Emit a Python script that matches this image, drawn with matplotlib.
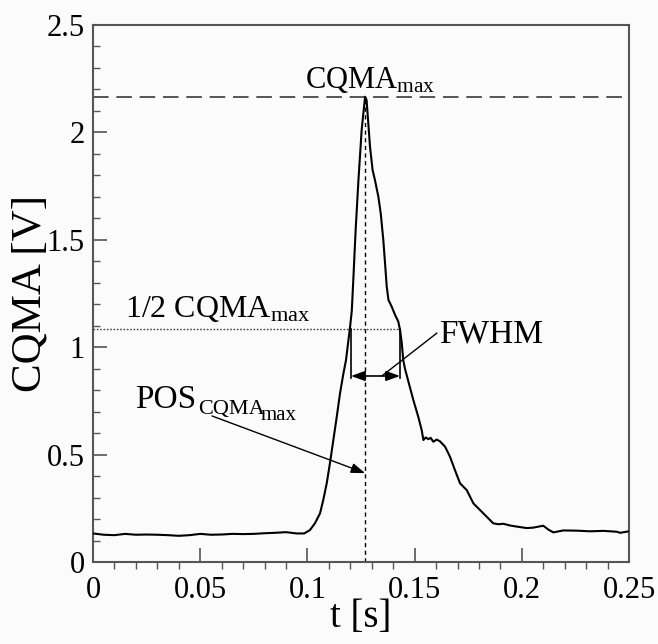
import matplotlib
matplotlib.use("Agg")
import matplotlib.pyplot as plt
from matplotlib.ticker import MultipleLocator

# Signal
t = [0.000, 0.005, 0.010, 0.015, 0.020, 0.025, 0.030, 0.035, 0.040, 0.045,
     0.050, 0.055, 0.060, 0.065, 0.070, 0.075, 0.080, 0.085, 0.090, 0.095,
     0.0985, 0.1012, 0.1035, 0.1059, 0.1074, 0.1090, 0.1105, 0.1121, 0.1137,
     0.1152, 0.1168, 0.1180, 0.1191, 0.1199, 0.1207, 0.1214, 0.1225, 0.1238,
     0.1253, 0.1269, 0.1276, 0.1292, 0.1304, 0.1315, 0.1331, 0.1342, 0.1354,
     0.1362, 0.1370, 0.1378, 0.1393, 0.1409, 0.1424, 0.1432, 0.1440, 0.1447,
     0.1455, 0.1471, 0.1494, 0.1517, 0.1533, 0.1541, 0.1552, 0.1564, 0.1575,
     0.1587, 0.1603, 0.1618, 0.1642, 0.1665, 0.1688, 0.1712, 0.1743, 0.1774,
     0.1805, 0.1836, 0.1867, 0.1890, 0.1914, 0.1945, 0.1976, 0.2023, 0.2053,
     0.2100, 0.2125, 0.2147, 0.2193, 0.2256, 0.2318, 0.2380, 0.2443, 0.2458,
     0.2500]
cqma = [0.133, 0.127, 0.125, 0.131, 0.127, 0.128, 0.127, 0.125, 0.122, 0.125,
        0.131, 0.127, 0.128, 0.131, 0.130, 0.131, 0.134, 0.136, 0.139, 0.133,
        0.133, 0.149, 0.180, 0.227, 0.289, 0.366, 0.459, 0.568, 0.677,
        0.785, 0.878, 0.940, 1.030, 1.095, 1.170, 1.313, 1.546, 1.778,
        2.011, 2.166, 2.151, 1.933, 1.825, 1.778, 1.700, 1.623, 1.499,
        1.391, 1.282, 1.220, 1.189, 1.150, 1.119, 1.080, 1.020, 0.940,
        0.900, 0.840, 0.754, 0.676, 0.614, 0.568, 0.580, 0.572, 0.578,
        0.560, 0.570, 0.562, 0.537, 0.490, 0.428, 0.366, 0.335, 0.273,
        0.242, 0.211, 0.180, 0.176, 0.178, 0.170, 0.165, 0.158, 0.160,
        0.169, 0.150, 0.138, 0.147, 0.146, 0.143, 0.145, 0.141, 0.136,
        0.143]

x_ticks = [0, 0.05, 0.1, 0.15, 0.2, 0.25]
x_tick_labels = ['0', '0.05', '0.1', '0.15', '0.2', '0.25']
y_ticks = [0, 0.5, 1, 1.5, 2, 2.5]
y_tick_labels = ['0', '0.5', '1', '1.5', '2', '2.5']

# characteristic values
peak_t = 0.1269
peak_v = 2.166
half_v = peak_v / 2
fwhm_left = 0.1203
fwhm_right = 0.1432
fwhm_arrow_v = 0.866
pos_arrow_v = 0.414

plt.rcParams['font.family'] = ['Liberation Serif', 'DejaVu Serif']
plt.rcParams['mathtext.fontset'] = 'custom'
plt.rcParams['mathtext.rm'] = 'Liberation Serif'
plt.rcParams['mathtext.it'] = 'Liberation Serif:italic'

fig = plt.figure(figsize=(6.58, 6.44), dpi=100, facecolor='#fbfbfb')
ax = fig.add_axes([0.1413, 0.1273, 0.956 - 0.1413, 0.9612 - 0.1273])
ax.set_facecolor('#fbfbfb')

ax.plot(t, cqma, color='black', lw=1.5, zorder=3)

# reference lines
ax.axhline(peak_v, color='#555555', lw=1.4, dashes=(8, 4), zorder=2)
ax.plot([0, fwhm_right], [half_v, half_v], color='#444444', lw=1.0,
        dashes=(1.2, 1.2), zorder=2)
ax.plot([peak_t, peak_t], [0, peak_v], color='black', lw=1.0,
        dashes=(3, 2.5), zorder=2)
for x in (fwhm_left, fwhm_right):
    ax.plot([x, x], [half_v, fwhm_arrow_v - 0.01], color='black', lw=1.2,
            zorder=2)

# FWHM double arrow
ax.annotate('', xy=(fwhm_left, fwhm_arrow_v), xytext=(fwhm_right, fwhm_arrow_v),
            arrowprops=dict(arrowstyle='<|-|>,head_length=0.7,head_width=0.25',
                            color='black', lw=1.2, shrinkA=0, shrinkB=0,
                            mutation_scale=12))
ax.plot([0.1347, 0.1603], [fwhm_arrow_v, 1.065], color='black', lw=1.0)
ax.text(0.1615, 1.02, 'FWHM', fontsize=24, ha='left', va='baseline')

# POS arrow
ax.annotate('', xy=(peak_t, pos_arrow_v), xytext=(0.0555, 0.680),
            arrowprops=dict(arrowstyle='-|>,head_length=0.7,head_width=0.25',
                            color='black', lw=1.0, shrinkA=0, shrinkB=0,
                            mutation_scale=12))
ax.text(0.0196, 0.717, 'POS', fontsize=24, ha='left', va='baseline')
ax.text(0.0490, 0.690, 'CQMA', fontsize=16, ha='left', va='baseline')
ax.text(0.0784, 0.662, 'max', fontsize=15, ha='left', va='baseline')

ax.text(0.0149, 1.14, r'1/2 CQMA$_{\mathregular{max}}$', fontsize=23,
        ha='left', va='baseline')
ax.text(0.0989, 2.207, r'CQMA$_{\mathregular{max}}$', fontsize=22,
        ha='left', va='baseline')

ax.set_xlim(0, 0.25)
ax.set_ylim(0, 2.5)
ax.set_xticks(x_ticks)
ax.set_xticklabels(x_tick_labels)
ax.set_yticks(y_ticks)
ax.set_yticklabels(y_tick_labels)
ax.xaxis.set_minor_locator(MultipleLocator(0.01))
ax.yaxis.set_minor_locator(MultipleLocator(0.1))

ax.tick_params(axis='both', which='major', direction='in', length=10,
               width=1.2, color='#555555', labelsize=22)
ax.tick_params(axis='y', which='major', pad=6)
ax.tick_params(axis='x', which='major', pad=10)
ax.tick_params(axis='y', which='minor', direction='in', length=5, width=1.0,
               color='#555555')
ax.tick_params(axis='x', which='minor', direction='out', length=5, width=1.0,
               color='#555555')

for s in ax.spines.values():
    s.set_color('#555555')
    s.set_linewidth(1.5)

ax.set_xlabel('t [s]', fontsize=28, labelpad=-4)
ax.set_ylabel('CQMA [V]', fontsize=31, labelpad=-2)

fig.savefig('out.png', dpi=100, facecolor=fig.get_facecolor())
